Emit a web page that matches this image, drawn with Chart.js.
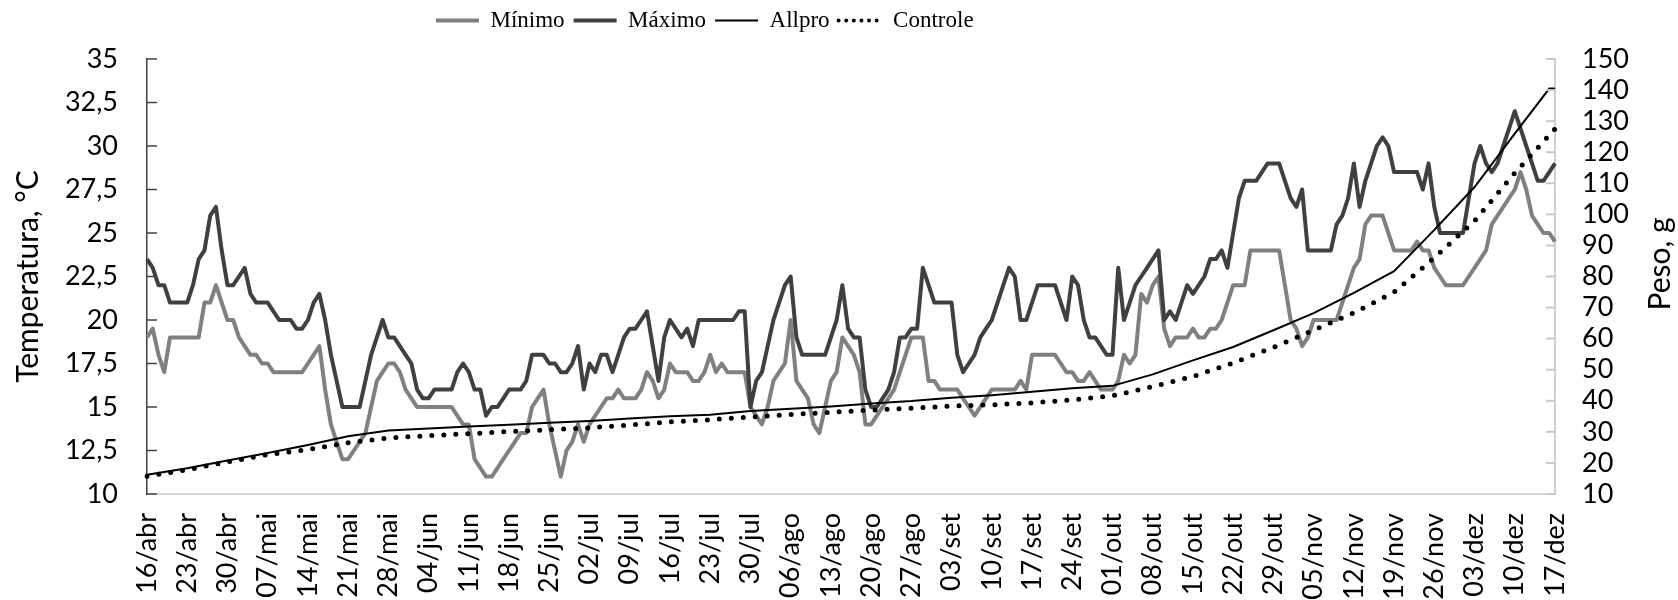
<!DOCTYPE html>
<html>
<head>
<meta charset="utf-8">
<script src="https://cdn.jsdelivr.net/npm/chart.js@4.4.1/dist/chart.umd.min.js"></script>
<style>
  body { margin: 0; background: #fff; }
</style>
</head>
<body>
<canvas id="grafico" width="1678" height="600"></canvas>
<script>
// datas diárias de 16/abr a 17/dez (246 dias)
const meses = ['jan', 'fev', 'mar', 'abr', 'mai', 'jun', 'jul', 'ago', 'set', 'out', 'nov', 'dez'];
const totalDias = 246;

// temperatura mínima diária, °C (uma linha por semana)
const minimo = [
    19, 19.5, 18, 17, 19, 19, 19,
    19, 19, 19, 21, 21, 22, 21,
    20, 20, 19, 18.5, 18, 18, 17.5,
    17.5, 17, 17, 17, 17, 17, 17,
    17.5, 18, 18.5, 16, 14, 13, 12,
    12, 12.5, 13, 13.5, 15, 16.5, 17,
    17.5, 17.5, 17, 16, 15.5, 15, 15,
    15, 15, 15, 15, 15, 14.5, 14,
    14, 12, 11.5, 11, 11, 11.5, 12,
    12.5, 13, 13.5, 13.5, 15, 15.5, 16,
    14, 12.5, 11, 12.5, 13, 14, 13,
    14, 14.5, 15, 15.5, 15.5, 16, 15.5,
    15.5, 15.5, 16, 17, 16.5, 15.5, 16,
    17.5, 17, 17, 17, 16.5, 16.5, 17,
    18, 17, 17.5, 17, 17, 17, 17,
    15, 14.5, 14, 15, 16.5, 17, 17.5,
    20, 16.5, 16, 15.5, 14, 13.5, 15,
    16.5, 17, 19, 18.5, 18, 17, 14,
    14, 14.5, 15, 15.5, 16, 17, 18,
    19, 19, 19, 16.5, 16.5, 16, 16,
    16, 16, 15.5, 15, 14.5, 15, 15.5,
    16, 16, 16, 16, 16, 16.5, 16,
    18, 18, 18, 18, 18, 17.5, 17,
    17, 16.5, 16.5, 17, 16.5, 16, 16,
    16, 16.5, 18, 17.5, 18, 21.5, 21,
    22, 22.5, 19.5, 18.5, 19, 19, 19,
    19.5, 19, 19, 19.5, 19.5, 20, 21,
    22, 22, 22, 24, 24, 24, 24,
    24, 24, 22, 20, 19.5, 18.5, 19,
    20, 20, 20, 20, 20, 21, 22,
    23, 23.5, 25.5, 26, 26, 26, 25,
    24, 24, 24, 24, 24.5, 24, 24,
    23, 22.5, 22, 22, 22, 22, 22.5,
    23, 23.5, 24, 25.5, 26, 26.5, 27,
    27.5, 28.5, 27.5, 26, 25.5, 25, 25,
    24.5
];

// temperatura máxima diária, °C
const maximo = [
    23.5, 23, 22, 22, 21, 21, 21,
    21, 22, 23.5, 24, 26, 26.5, 24,
    22, 22, 22.5, 23, 21.5, 21, 21,
    21, 20.5, 20, 20, 20, 19.5, 19.5,
    20, 21, 21.5, 20, 18, 16.5, 15,
    15, 15, 15, 16.5, 18, 19, 20,
    19, 19, 18.5, 18, 17.5, 16, 15.5,
    15.5, 16, 16, 16, 16, 17, 17.5,
    17, 16, 16, 14.5, 15, 15, 15.5,
    16, 16, 16, 16.5, 18, 18, 18,
    17.5, 17.5, 17, 17, 17.5, 18.5, 16,
    17.5, 17, 18, 18, 17, 18, 19,
    19.5, 19.5, 20, 20.5, 18.5, 16.5, 19,
    20, 19.5, 19, 19.5, 18.5, 20, 20,
    20, 20, 20, 20, 20, 20.5, 20.5,
    15, 16.5, 17, 18.5, 20, 21, 22,
    22.5, 19, 18, 18, 18, 18, 18,
    19, 20, 22, 19.5, 19, 19, 16,
    15, 15, 15.5, 16, 17, 19, 19,
    19.5, 19.5, 23, 22, 21, 21, 21,
    21, 18, 17, 17.5, 18, 19, 19.5,
    20, 21, 22, 23, 22.5, 20, 20,
    21, 22, 22, 22, 22, 21, 20,
    22.5, 22, 20, 19, 19, 18.5, 18,
    18, 23, 20, 21, 22, 22.5, 23,
    23.5, 24, 20, 20.5, 20, 21, 22,
    21.5, 22, 22.5, 23.5, 23.5, 24, 23,
    25, 27, 28, 28, 28, 28.5, 29,
    29, 29, 28, 27, 26.5, 27.5, 24,
    24, 24, 24, 24, 25.5, 26, 27,
    29, 26.5, 28, 29, 30, 30.5, 30,
    28.5, 28.5, 28.5, 28.5, 28.5, 27.5, 29,
    26.5, 25, 25, 25, 25, 25, 27,
    29, 30, 29, 28.5, 29, 30, 31,
    32, 31, 30, 29, 28, 28, 28.5,
    29
];

// pesagens (dia desde 16/abr) e peso médio, g
const diasAllpro = [0, 7, 14, 21, 28, 35, 42, 49, 56, 63, 70, 77, 84, 91, 98, 105, 112, 119,
    126, 133, 140, 147, 154, 161, 168, 175, 182, 189, 196, 203, 210, 217, 224, 231, 238, 244, 245];
const pesoAllpro = [16.2, 18.3, 20.8, 23.2, 25.8, 28.6, 30.4, 31.1, 31.7, 32.3, 32.9, 33.5, 34.3, 35.0,
    35.5, 36.7, 37.4, 38.2, 39.1, 39.9, 41.0, 41.8, 42.9, 44.0, 44.8, 48.5, 53.0, 57.3, 62.7, 68.2,
    74.7, 81.7, 95.0, 108.8, 126.0, 140.5, 140.5];

const diasControle = [0, 7, 14, 21, 28, 35, 42, 49, 56, 63, 70, 77, 84, 91, 98, 105, 112, 119,
    126, 133, 140, 147, 154, 161, 168, 175, 182, 189, 196, 203, 210, 217, 224, 231, 238, 245];
const pesoControle = [15.7, 17.8, 20.3, 22.7, 24.3, 26.5, 28.0, 28.8, 29.4, 30.1, 30.7, 31.3, 32.2, 33.2,
    33.9, 34.8, 35.6, 36.3, 37.0, 37.6, 38.3, 38.7, 39.3, 40.3, 41.6, 44.6, 47.8, 52.2, 57.2, 62.7,
    68.3, 75.0, 86.0, 97.9, 113.3, 127.5];

const datas = [];
for (let i = 0; i < totalDias; i++) {
    const d = new Date(Date.UTC(2021, 3, 16 + i));
    datas.push(String(d.getUTCDate()).padStart(2, '0') + '/' + meses[d.getUTCMonth()]);
}

function serieDiaria(dias, valores) {
    const serie = new Array(totalDias).fill(null);
    dias.forEach((d, i) => { serie[d] = valores[i]; });
    return serie;
}

const fonteEixo = { family: 'Lato', size: 27 };

// marcas internas dos eixos, título do eixo secundário e posição da legenda
const eixos = {
    id: 'eixos',
    beforeLayout(chart) {
        const lg = chart.legend;
        if (lg && !lg._ajustada) {
            const fitOriginal = lg.fit.bind(lg);
            lg.fit = function () { fitOriginal(); this.height = 59; };
            lg._ajustada = true;
        }
    },
    afterLayout(chart) {
        chart.legend.left = 427;
    },
    afterDraw(chart) {
        const { ctx, chartArea, scales } = chart;
        ctx.save();
        ctx.lineWidth = 1.5;
        ctx.strokeStyle = '#404040';
        scales.y.ticks.forEach(t => {
            const y = scales.y.getPixelForValue(t.value);
            ctx.beginPath();
            ctx.moveTo(chartArea.left, y);
            ctx.lineTo(chartArea.left + 10, y);
            ctx.stroke();
        });
        ctx.lineWidth = 2;
        ctx.strokeStyle = '#c8c8c8';
        scales.y2.ticks.forEach(t => {
            const y = scales.y2.getPixelForValue(t.value);
            ctx.beginPath();
            ctx.moveTo(chartArea.right - 9, y);
            ctx.lineTo(chartArea.right, y);
            ctx.stroke();
        });
        ctx.translate(1660, 264);
        ctx.rotate(-Math.PI / 2);
        ctx.font = '30px Lato';
        ctx.fillStyle = '#000';
        ctx.textAlign = 'center';
        ctx.textBaseline = 'middle';
        ctx.fillText('Peso, g', 0, 0);
        ctx.restore();
    }
};

new Chart(document.getElementById('grafico').getContext('2d'), {
    type: 'line',
    data: {
        labels: datas,
        datasets: [
            {
                label: 'Mínimo',
                data: minimo,
                borderColor: '#808080',
                backgroundColor: '#808080',
                borderWidth: 4,
                borderJoinStyle: 'round',
                pointRadius: 0,
                yAxisID: 'y',
                order: 4
            },
            {
                label: 'Máximo',
                data: maximo,
                borderColor: '#404040',
                backgroundColor: '#404040',
                borderWidth: 4,
                borderJoinStyle: 'round',
                pointRadius: 0,
                yAxisID: 'y',
                order: 3
            },
            {
                label: 'Allpro',
                data: serieDiaria(diasAllpro, pesoAllpro),
                borderColor: '#000',
                backgroundColor: '#000',
                borderWidth: 2,
                pointRadius: 0,
                spanGaps: true,
                yAxisID: 'y2',
                order: 2
            },
            {
                label: 'Controle',
                data: serieDiaria(diasControle, pesoControle),
                borderColor: '#000',
                backgroundColor: '#000',
                borderWidth: 5,
                borderDash: [0, 12],
                borderCapStyle: 'round',
                pointRadius: 0,
                spanGaps: true,
                yAxisID: 'y2',
                order: 1
            }
        ]
    },
    options: {
        responsive: false,
        animation: false,
        devicePixelRatio: 1,
        layout: { padding: 0 },
        plugins: {
            legend: {
                position: 'top',
                align: 'start',
                labels: {
                    usePointStyle: true,
                    pointStyle: 'line',
                    pointStyleWidth: 43,
                    padding: 9,
                    color: '#000',
                    font: { family: 'Liberation Serif', size: 23 },
                    sort: (a, b) => a.datasetIndex - b.datasetIndex,
                    generateLabels(chart) {
                        const itens = Chart.defaults.plugins.legend.labels.generateLabels(chart);
                        itens.forEach(it => {
                            const ds = chart.data.datasets[it.datasetIndex];
                            if (ds.borderDash) {
                                it.lineDash = [0, 7.6];
                                it.lineCap = 'round';
                                it.lineWidth = 4;
                            }
                        });
                        return itens;
                    }
                }
            },
            tooltip: { enabled: false }
        },
        scales: {
            x: {
                type: 'category',
                offset: false,
                grid: { drawOnChartArea: false, drawTicks: false },
                border: { display: true, color: '#d9d9d9', width: 2 },
                ticks: {
                    autoSkip: false,
                    minRotation: 90,
                    maxRotation: 90,
                    padding: 19,
                    color: '#000',
                    font: fonteEixo,
                    callback: (v, i) => (i % 7 === 0 ? datas[i] : null)
                },
                afterFit: s => { s.height = 106; }
            },
            y: {
                position: 'left',
                min: 10,
                max: 35,
                grid: { drawOnChartArea: false, drawTicks: false },
                border: { display: true, color: '#404040', width: 1.5 },
                ticks: {
                    stepSize: 2.5,
                    autoSkip: false,
                    padding: 29,
                    color: '#000',
                    font: fonteEixo,
                    callback: v => String(v).replace('.', ',')
                },
                title: {
                    display: true,
                    text: 'Temperatura, °C',
                    color: '#000',
                    font: { family: 'Lato', size: 30 },
                    padding: { top: 10, bottom: 0 }
                },
                afterFit: s => { s.width = 147; }
            },
            y2: {
                position: 'right',
                min: 10,
                max: 150,
                grid: { drawOnChartArea: false, drawTicks: false },
                border: { display: true, color: '#d0d0d0', width: 2 },
                ticks: {
                    stepSize: 10,
                    autoSkip: false,
                    padding: 27,
                    color: '#000',
                    font: fonteEixo
                },
                afterFit: s => { s.width = 123; }
            }
        }
    },
    plugins: [eixos]
});
</script>
</body>
</html>
